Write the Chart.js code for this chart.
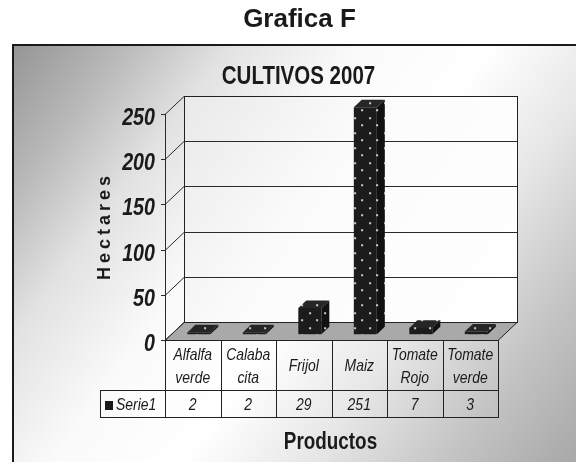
<!DOCTYPE html>
<html><head><meta charset="utf-8">
<script src="https://cdn.jsdelivr.net/npm/chart.js@4.4.0/dist/chart.umd.min.js"></script>
<style>html,body{margin:0;padding:0;background:#fff;}canvas{display:block;}</style>
</head><body>
<canvas id="c" width="576" height="462"></canvas>
<script>
const pageTitle = 'Grafica F';
const chartTitle = 'CULTIVOS 2007';
const categories = [['Alfalfa','verde'], ['Calaba','cita'], ['Frijol'], ['Maiz'], ['Tomate','Rojo'], ['Tomate','verde']];
const seriesName = 'Serie1';
const values = [2, 2, 29, 251, 7, 3];
const yTicks = [0, 50, 100, 150, 200, 250];
const yTitle = 'Hectares';
const xTitle = 'Productos';

const SANS = "'Liberation Sans',Arial,sans-serif";
const NARROW_X = 0.82;
const INK = '#1a1a1a';
const DEPTH = {dx: 19, dy: -18};
const FRONT = 0.32, BACK = 0.74;

const canvas = document.getElementById('c');
const mainCtx = canvas.getContext('2d');
function makePattern(base) {
  const t = document.createElement('canvas'); t.width = 15; t.height = 15;
  const g = t.getContext('2d');
  g.fillStyle = base; g.fillRect(0, 0, 15, 15);
  g.fillStyle = '#cfcfcf';
  g.fillRect(3, 3, 2, 2); g.fillRect(10, 10, 2, 2);
  return mainCtx.createPattern(t, 'repeat');
}
const frontPattern = makePattern('#1c1c1c');
const sidePattern = makePattern('#111111');
const topPattern = makePattern('#262626');

// condensed text (Arial Narrow look) drawn with a horizontal scale
function narrowText(ctx, text, x, y, font, align) {
  ctx.save();
  ctx.translate(x, y);
  ctx.scale(NARROW_X, 1);
  ctx.font = font;
  ctx.textAlign = align;
  ctx.textBaseline = 'alphabetic';
  ctx.fillText(text, 0, 0);
  ctx.restore();
}

const scene = {
  id: 'scene',
  beforeDraw(chart) {
    const ctx = chart.ctx;
    ctx.save();
    ctx.fillStyle = '#fff'; ctx.fillRect(0, 0, 576, 462);
    const g = ctx.createLinearGradient(12, 44, 576, 462);
    g.addColorStop(0, '#949494');
    g.addColorStop(0.13, '#b9b9b9');
    g.addColorStop(0.25, '#e2e2e2');
    g.addColorStop(0.4, '#fafafa');
    g.addColorStop(0.55, '#ffffff');
    g.addColorStop(0.7, '#e6e6e6');
    g.addColorStop(0.85, '#c4c4c4');
    g.addColorStop(1, '#a8a8a8');
    ctx.fillStyle = g; ctx.fillRect(12, 44, 600, 440);
    ctx.strokeStyle = INK; ctx.lineWidth = 2;
    ctx.beginPath(); ctx.moveTo(13, 480); ctx.lineTo(13, 45); ctx.lineTo(590, 45); ctx.stroke();

    ctx.fillStyle = INK; ctx.textAlign = 'center'; ctx.textBaseline = 'alphabetic';
    ctx.font = 'bold 26px ' + SANS; ctx.fillText(pageTitle, 299.5, 27);
    narrowText(ctx, chartTitle, 298.5, 84, 'bold 25px ' + SANS, 'center');

    // 3D walls
    const {left, right, top, bottom} = chart.chartArea;
    const ys = chart.scales.y;
    const dx = DEPTH.dx, dy = DEPTH.dy;
    const wg = ctx.createLinearGradient(left + dx, top + dy, right + dx, bottom + dy);
    wg.addColorStop(0, '#e9e9e9'); wg.addColorStop(0.4, '#fbfbfb'); wg.addColorStop(1, '#ffffff');
    ctx.fillStyle = wg;
    ctx.fillRect(left + dx, top + dy, right - left, bottom - top);
    ctx.lineWidth = 1; ctx.strokeStyle = '#222';
    ctx.strokeRect(Math.round(left + dx) + 0.5, Math.round(top + dy) + 0.5, Math.round(right - left), Math.round(bottom - top));
    // floor
    ctx.fillStyle = '#a9a9a9';
    ctx.beginPath();
    ctx.moveTo(left, bottom + 0.5); ctx.lineTo(right, bottom + 0.5);
    ctx.lineTo(right + dx, bottom + dy + 0.5); ctx.lineTo(left + dx, bottom + dy + 0.5);
    ctx.closePath(); ctx.fill(); ctx.stroke();
    // gridlines + left wall lines + tick labels
    ctx.strokeStyle = '#2a2a2a';
    const topVal = ys.max;
    ys.ticks.forEach(t => {
      const py = Math.round(ys.getPixelForValue(t.value)) + 0.5;
      ctx.beginPath();
      if (t.value > 0 && t.value < topVal) { ctx.moveTo(left + dx, py + dy); ctx.lineTo(right + dx, py + dy); }
      ctx.moveTo(left - 4, py); ctx.lineTo(left, py); ctx.lineTo(left + dx, py + dy);
      ctx.stroke();
      ctx.fillStyle = INK;
      narrowText(ctx, String(t.label), left - 10, py + 10.5, 'italic bold 24px ' + SANS, 'right');
    });
    ctx.beginPath(); ctx.moveTo(left + 0.5, top); ctx.lineTo(left + 0.5, bottom); ctx.stroke();
    ctx.restore();
  },
  beforeDatasetsDraw(chart) {
    chart.ctx.save();
    chart.ctx.translate(DEPTH.dx * FRONT, DEPTH.dy * FRONT);
  },
  afterDatasetsDraw(chart) {
    const ctx = chart.ctx;
    const ddx = DEPTH.dx * (BACK - FRONT), ddy = DEPTH.dy * (BACK - FRONT);
    chart.getDatasetMeta(0).data.forEach(el => {
      const {x, y, base, width} = el.getProps(['x', 'y', 'base', 'width'], true);
      const l = x - width / 2, r = x + width / 2;
      ctx.fillStyle = sidePattern;
      ctx.beginPath(); ctx.moveTo(r, y); ctx.lineTo(r + ddx, y + ddy); ctx.lineTo(r + ddx, base + ddy); ctx.lineTo(r, base); ctx.closePath(); ctx.fill();
      ctx.fillStyle = topPattern;
      ctx.beginPath(); ctx.moveTo(l, y); ctx.lineTo(l + ddx, y + ddy); ctx.lineTo(r + ddx, y + ddy); ctx.lineTo(r, y); ctx.closePath(); ctx.fill();
    });
    ctx.restore();
  },
  afterDraw(chart) {
    const ctx = chart.ctx;
    const xs = chart.scales.x;
    const {right, bottom} = chart.chartArea;
    const half = (xs.getPixelForValue(1) - xs.getPixelForValue(0)) / 2;
    const rowTop = 390, rowBot = 417, labelLeft = 100;
    ctx.save();
    ctx.strokeStyle = '#222'; ctx.lineWidth = 1;
    ctx.beginPath();
    for (let i = 0; i <= values.length; i++) {
      const bx = Math.round(i < values.length ? xs.getPixelForValue(i) - half : xs.getPixelForValue(i - 1) + half) + 0.5;
      ctx.moveTo(bx, bottom); ctx.lineTo(bx, rowBot + 0.5);
    }
    ctx.moveTo(labelLeft + 0.5, rowTop); ctx.lineTo(labelLeft + 0.5, rowBot + 0.5);
    ctx.moveTo(labelLeft, rowTop + 0.5); ctx.lineTo(right, rowTop + 0.5);
    ctx.moveTo(labelLeft, rowBot + 0.5); ctx.lineTo(right + 1, rowBot + 0.5);
    ctx.stroke();
    ctx.fillStyle = INK;
    const cellFont = 'italic 17px ' + SANS;
    // category labels (from the x scale)
    xs.getLabels().forEach((lab, i) => {
      const cx = xs.getPixelForValue(i);
      const lines = Array.isArray(lab) ? lab : [lab];
      if (lines.length === 1) narrowText(ctx, lines[0], cx, 370.5, cellFont, 'center');
      else { narrowText(ctx, lines[0], cx, 359.5, cellFont, 'center'); narrowText(ctx, lines[1], cx, 382.5, cellFont, 'center'); }
    });
    values.forEach((v, i) => narrowText(ctx, String(v), xs.getPixelForValue(i), 410, cellFont, 'center'));
    ctx.fillRect(105, 401, 8, 9);
    narrowText(ctx, seriesName, 116, 410, cellFont, 'left');
    narrowText(ctx, xTitle, 330.5, 449, 'bold 23px ' + SANS, 'center');
    // y title
    ctx.translate(110, 228);
    ctx.rotate(-Math.PI / 2);
    ctx.font = 'bold 18px ' + SANS;
    ctx.letterSpacing = '4px';
    ctx.textAlign = 'center';
    ctx.textBaseline = 'alphabetic';
    ctx.fillText(yTitle, 2, 0);
    ctx.restore();
  }
};

new Chart(canvas, {
  type: 'bar',
  data: {
    labels: categories,
    datasets: [{
      label: seriesName,
      data: values,
      backgroundColor: frontPattern,
      borderWidth: 0,
      categoryPercentage: 1,
      barPercentage: 0.415,
      clip: false
    }]
  },
  options: {
    responsive: false,
    animation: false,
    devicePixelRatio: 1,
    layout: {padding: {top: 114, right: 78, bottom: 0, left: 0}},
    plugins: {legend: {display: false}, title: {display: false}, tooltip: {enabled: false}},
    scales: {
      x: {
        grid: {display: false, drawTicks: false},
        border: {display: false},
        ticks: {display: false},
        afterFit(s) { s.height = 122; s.paddingLeft = 0; s.paddingRight = 0; }
      },
      y: {
        min: 0, max: 250,
        grid: {display: false},
        border: {display: false},
        ticks: {display: false, stepSize: 50},
        afterFit(s) { s.width = 165; s.paddingTop = 0; s.paddingBottom = 0; }
      }
    }
  },
  plugins: [scene]
});
</script>
</body></html>
